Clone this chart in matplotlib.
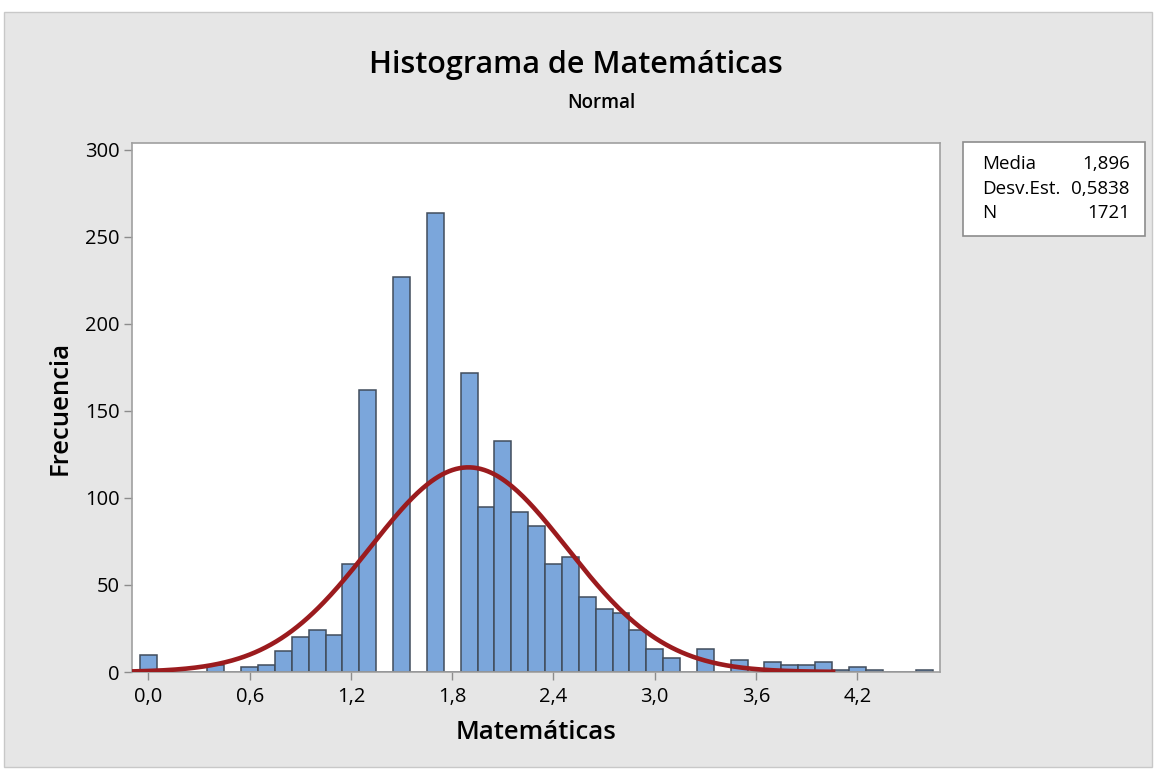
import numpy as np
import matplotlib
matplotlib.use("Agg")
import matplotlib.pyplot as plt
from matplotlib.patches import Rectangle

# ---- data ----
bin_mids = [0.0, 0.1, 0.2, 0.3, 0.4, 0.5, 0.6, 0.7, 0.8, 0.9,
            1.0, 1.1, 1.2, 1.3, 1.4, 1.5, 1.6, 1.7, 1.8, 1.9,
            2.0, 2.1, 2.2, 2.3, 2.4, 2.5, 2.6, 2.7, 2.8, 2.9,
            3.0, 3.1, 3.2, 3.3, 3.4, 3.5, 3.6, 3.7, 3.8, 3.9,
            4.0, 4.1, 4.2, 4.3, 4.4, 4.5, 4.6]
counts = [10, 0, 0, 0, 4, 0, 3, 4, 12, 20,
          24, 21, 62, 162, 0, 227, 0, 264, 0, 172,
          95, 133, 92, 84, 62, 66, 43, 36, 34, 24,
          13, 8, 0, 13, 0, 7, 0, 6, 4, 4,
          6, 1, 3, 1, 0, 0, 1]
bin_width = 0.1
mean = 1.896
std = 0.5838
n = 1721
xticks = [0.0, 0.6, 1.2, 1.8, 2.4, 3.0, 3.6, 4.2]
xticklabels = ["0,0", "0,6", "1,2", "1,8", "2,4", "3,0", "3,6", "4,2"]
yticks = [0, 50, 100, 150, 200, 250, 300]
stats_names = ["Media", "Desv.Est.", "N"]
stats_values = ["1,896", "0,5838", "1721"]

plt.rcParams['font.family'] = ['Open Sans', 'DejaVu Sans']

W, H = 1158, 773
fig = plt.figure(figsize=(W / 100, H / 100), dpi=100)
fig.patch.set_facecolor("white")

# gray panel (behind everything)
fig.patches.append(Rectangle((4 / W, 1 - 767 / H), 1148 / W, 755 / H,
                             transform=fig.transFigure, facecolor="#e6e6e6",
                             edgecolor="#c8c8c8", lw=1, zorder=-10))

ax = fig.add_axes([132 / W, 1 - 672 / H, (940 - 132) / W, (672 - 143) / H])
ax.set_zorder(2)
ax.set_facecolor("white")

ax.bar(bin_mids, counts, width=bin_width, color="#7ba6db",
       edgecolor="#414d5c", linewidth=1.1, zorder=2)

xs = np.linspace(-0.1, 4.07, 400)
ys = n * bin_width / (std * np.sqrt(2 * np.pi)) * np.exp(-0.5 * ((xs - mean) / std) ** 2)
ax.plot(xs, ys, color="#9b1b1e", lw=3.3, zorder=3, solid_capstyle="butt")

ax.set_xlim(-0.097, 4.69)
ax.set_ylim(0, 304)
ax.set_xticks(xticks)
ax.set_xticklabels(xticklabels)
ax.set_yticks(yticks)
ax.tick_params(axis="both", direction="out", length=6, width=1, color="#8c8c8c",
               labelsize=14.5)
ax.tick_params(axis="x", pad=5)
ax.tick_params(axis="y", pad=3)
for s in ax.spines.values():
    s.set_color("#a0a0a0")
    s.set_linewidth(1.2)

ax.set_xlabel("Matemáticas", fontsize=18.5, fontweight="semibold", labelpad=9)
ax.set_ylabel("Frecuencia", fontsize=18.5, fontweight="semibold", labelpad=9)

fig.text(576 / W, 1 - 65 / H, "Histograma de Matemáticas", ha="center", va="center",
         fontsize=22, fontweight="semibold")
fig.text(601 / W, 1 - 103 / H, "Normal", ha="center", va="center",
         fontsize=13.5, fontweight="semibold")

# stats box
fig.patches.append(Rectangle((963 / W, 1 - 236 / H), (1145 - 963) / W, (236 - 142) / H,
                             transform=fig.transFigure, facecolor="white",
                             edgecolor="#8c8c8c", lw=1.2, zorder=1))
for i, (nm, val) in enumerate(zip(stats_names, stats_values)):
    y = 1 - (164 + i * 24.5) / H
    fig.text(982 / W, y, nm, ha="left", va="center", fontsize=13.5, zorder=3)
    fig.text(1130 / W, y, val, ha="right", va="center", fontsize=13.5, zorder=3)

fig.savefig("out.png", dpi=100, facecolor="white")
